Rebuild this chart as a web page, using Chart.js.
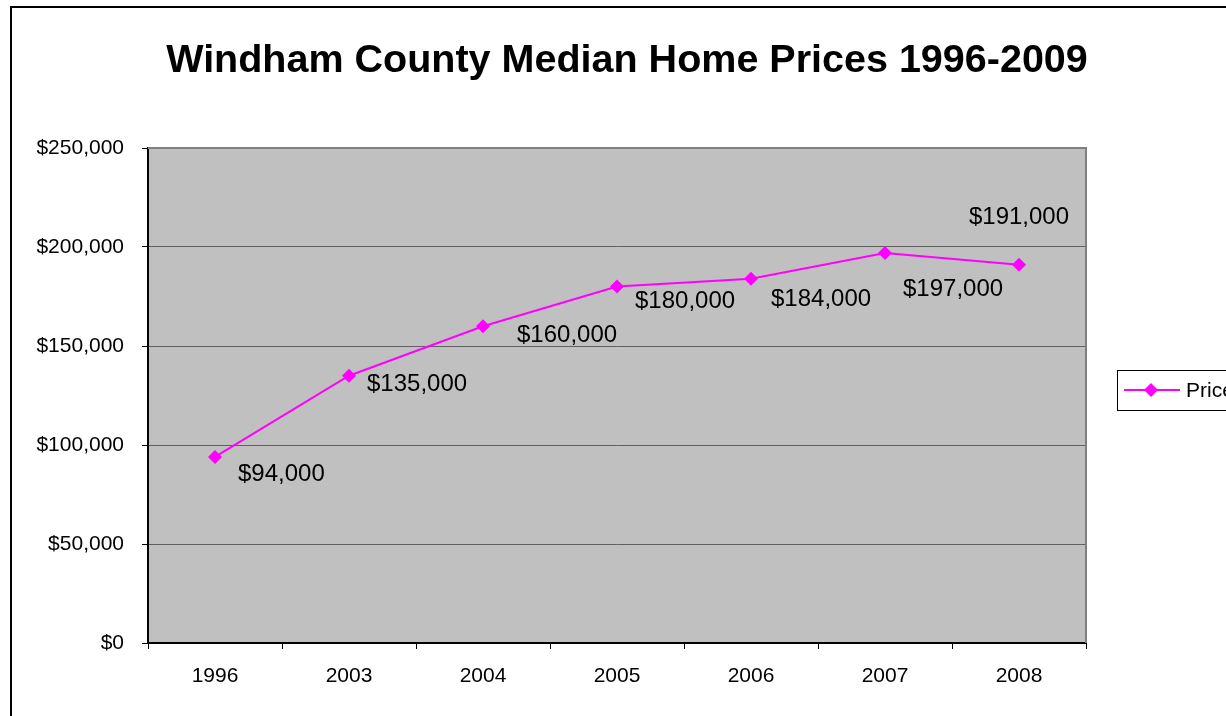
<!DOCTYPE html>
<html lang="en">
<head>
    <meta charset="UTF-8">
    <title>Windham County Median Home Prices 1996-2009</title>
    <script src="https://cdn.jsdelivr.net/npm/chart.js"></script>
    <style>
        html, body {
            margin: 0;
            padding: 0;
            background: #fff;
            overflow: hidden;
        }
        .chart-wrap {
            position: absolute;
            left: 0;
            top: 0;
            width: 1260px;
            height: 730px;
        }
    </style>
</head>
<body>
    <div class="chart-wrap">
        <canvas id="priceChart"></canvas>
    </div>

    <script>
    // --- data ---
    const years = ['1996', '2003', '2004', '2005', '2006', '2007', '2008'];
    const prices = [94000, 135000, 160000, 180000, 184000, 197000, 191000];
    const seriesName = 'Price';
    const chartTitle = 'Windham County Median Home Prices 1996-2009';

    const FONT = "Arial, 'Liberation Sans', sans-serif";
    const MAGENTA = '#ff00ff';

    // where each value label sits relative to its point (dx, dy, align)
    const labelOffsets = [
        [23, 17, 'left'], [18, 9, 'left'], [34, 9, 'left'], [18, 15, 'left'],
        [20, 21, 'left'], [18, 36, 'left'], [0, -47, 'center']
    ];

    const money = v => '$' + Number(v).toLocaleString('en-US');

    // grey plot area, frame, title, legend and value labels
    const excelLook = {
        id: 'excelLook',
        beforeDraw(chart) {
            const { ctx, chartArea: a } = chart;
            ctx.save();
            ctx.fillStyle = '#c0c0c0';
            ctx.fillRect(a.left, a.top, a.right - a.left, a.bottom - a.top);
            ctx.restore();
        },
        afterDraw(chart) {
            const { ctx, chartArea: a } = chart;
            ctx.save();
            // plot border (top / right)
            ctx.strokeStyle = '#808080';
            ctx.lineWidth = 2;
            ctx.beginPath();
            ctx.moveTo(a.left, a.top);
            ctx.lineTo(a.right, a.top);
            ctx.lineTo(a.right, a.bottom);
            ctx.stroke();

            // outer frame
            ctx.strokeStyle = '#000';
            ctx.lineWidth = 2;
            ctx.strokeRect(11, 7, 1240, 720);

            // title
            ctx.fillStyle = '#000';
            ctx.font = 'bold 39.5px ' + FONT;
            ctx.textAlign = 'center';
            ctx.textBaseline = 'alphabetic';
            ctx.fillText(chartTitle, 627, 72);

            // legend
            ctx.lineWidth = 1;
            ctx.strokeStyle = '#000';
            ctx.strokeRect(1117.5, 370.5, 140, 40);
            ctx.strokeStyle = MAGENTA;
            ctx.lineWidth = 2;
            ctx.beginPath();
            ctx.moveTo(1124, 390);
            ctx.lineTo(1180, 390);
            ctx.stroke();
            ctx.fillStyle = MAGENTA;
            ctx.beginPath();
            ctx.moveTo(1151, 383);
            ctx.lineTo(1158, 390);
            ctx.lineTo(1151, 397);
            ctx.lineTo(1144, 390);
            ctx.closePath();
            ctx.fill();
            ctx.fillStyle = '#000';
            ctx.font = '21px ' + FONT;
            ctx.textAlign = 'left';
            ctx.textBaseline = 'middle';
            ctx.fillText(seriesName, 1186, 391);
            ctx.restore();
        },
        afterDatasetsDraw(chart) {
            const { ctx } = chart;
            const meta = chart.getDatasetMeta(0);
            const values = chart.data.datasets[0].data;
            ctx.save();
            ctx.fillStyle = '#000';
            ctx.font = '24px ' + FONT;
            ctx.textBaseline = 'middle';
            meta.data.forEach((pt, i) => {
                const [dx, dy, align] = labelOffsets[i];
                ctx.textAlign = align;
                ctx.fillText(money(values[i]), pt.x + dx, pt.y + dy);
            });
            ctx.restore();
        }
    };

    new Chart(document.getElementById('priceChart'), {
        type: 'line',
        data: {
            labels: years,
            datasets: [{
                label: seriesName,
                data: prices,
                borderColor: MAGENTA,
                backgroundColor: MAGENTA,
                borderWidth: 2,
                pointStyle: 'rectRot',
                pointRadius: 7,
                pointBorderWidth: 0,
                tension: 0
            }]
        },
        options: {
            responsive: true,
            maintainAspectRatio: false,
            animation: false,
            layout: {
                padding: { left: 0, right: 174, top: 148, bottom: 37 }
            },
            plugins: {
                legend: { display: false },
                title: { display: false },
                tooltip: { enabled: false }
            },
            scales: {
                x: {
                    type: 'category',
                    offset: true,
                    afterFit: s => { s.height = 50; },
                    grid: {
                        offset: true,
                        drawOnChartArea: false,
                        drawTicks: true,
                        tickLength: 6,
                        tickColor: '#000'
                    },
                    border: { color: '#000', width: 2 },
                    ticks: {
                        color: '#000',
                        font: { family: FONT, size: 21 },
                        padding: 15,
                        maxRotation: 0
                    }
                },
                y: {
                    min: 0,
                    max: 250000,
                    afterFit: s => { s.width = 148; },
                    grid: {
                        color: '#606060',
                        lineWidth: 1,
                        tickLength: 6,
                        tickColor: '#000'
                    },
                    border: { color: '#000', width: 2 },
                    ticks: {
                        stepSize: 50000,
                        color: '#000',
                        font: { family: FONT, size: 21 },
                        padding: 18,
                        callback: v => money(v)
                    }
                }
            }
        },
        plugins: [excelLook]
    });
    </script>
</body>
</html>
